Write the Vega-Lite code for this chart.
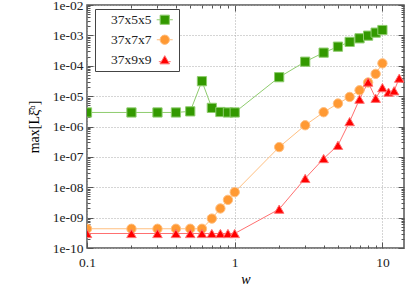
{
  "$schema": "https://vega.github.io/schema/vega-lite/v6.json",
  "width": 317,
  "height": 243,
  "autosize": "none",
  "padding": {"left": 87, "top": 5, "right": 3, "bottom": 39},
  "background": "white",
  "config": {
    "view": {"stroke": "#555555", "strokeWidth": 1.5},
    "font": "Liberation Serif",
    "legend": {
      "orient": "none",
      "legendX": 8,
      "legendY": 4,
      "strokeColor": "#444444",
      "fillColor": "white",
      "padding": 4,
      "rowPadding": 5,
      "labelFont": "Liberation Serif",
      "labelFontSize": 13.5,
      "labelColor": "#222222",
      "labelAlign": "right",
      "labelOffset": -20,
      "symbolOffset": 59,
      "symbolStrokeWidth": 1
    }
  },
  "data": {
    "values": [
      {"w": 0.1, "v": 2.9e-6, "s": "37x5x5"},
      {"w": 0.2, "v": 2.9e-6, "s": "37x5x5"},
      {"w": 0.3, "v": 2.9e-6, "s": "37x5x5"},
      {"w": 0.4, "v": 2.9e-6, "s": "37x5x5"},
      {"w": 0.5, "v": 3.15e-6, "s": "37x5x5"},
      {"w": 0.6, "v": 3.1e-5, "s": "37x5x5"},
      {"w": 0.7, "v": 4.1e-6, "s": "37x5x5"},
      {"w": 0.8, "v": 3.0e-6, "s": "37x5x5"},
      {"w": 0.9, "v": 2.9e-6, "s": "37x5x5"},
      {"w": 1, "v": 2.9e-6, "s": "37x5x5"},
      {"w": 2, "v": 4.2e-5, "s": "37x5x5"},
      {"w": 3, "v": 1.36e-4, "s": "37x5x5"},
      {"w": 4, "v": 2.7e-4, "s": "37x5x5"},
      {"w": 5, "v": 4.25e-4, "s": "37x5x5"},
      {"w": 6, "v": 6.1e-4, "s": "37x5x5"},
      {"w": 7, "v": 8.0e-4, "s": "37x5x5"},
      {"w": 8, "v": 9.8e-4, "s": "37x5x5"},
      {"w": 9, "v": 1.23e-3, "s": "37x5x5"},
      {"w": 10, "v": 1.5e-3, "s": "37x5x5"},
      {"w": 0.1, "v": 4.3e-10, "s": "37x7x7"},
      {"w": 0.2, "v": 4.3e-10, "s": "37x7x7"},
      {"w": 0.3, "v": 4.3e-10, "s": "37x7x7"},
      {"w": 0.4, "v": 4.3e-10, "s": "37x7x7"},
      {"w": 0.5, "v": 4.3e-10, "s": "37x7x7"},
      {"w": 0.6, "v": 4.3e-10, "s": "37x7x7"},
      {"w": 0.7, "v": 9.3e-10, "s": "37x7x7"},
      {"w": 0.8, "v": 2.0e-9, "s": "37x7x7"},
      {"w": 0.9, "v": 3.85e-9, "s": "37x7x7"},
      {"w": 1, "v": 6.9e-9, "s": "37x7x7"},
      {"w": 2, "v": 2.1e-7, "s": "37x7x7"},
      {"w": 3, "v": 1.1e-6, "s": "37x7x7"},
      {"w": 4, "v": 2.95e-6, "s": "37x7x7"},
      {"w": 5, "v": 5.7e-6, "s": "37x7x7"},
      {"w": 6, "v": 9.4e-6, "s": "37x7x7"},
      {"w": 7, "v": 1.56e-5, "s": "37x7x7"},
      {"w": 8, "v": 2.8e-5, "s": "37x7x7"},
      {"w": 9, "v": 5.4e-5, "s": "37x7x7"},
      {"w": 10, "v": 1.2e-4, "s": "37x7x7"},
      {"w": 0.1, "v": 3.0e-10, "s": "37x9x9"},
      {"w": 0.2, "v": 3.0e-10, "s": "37x9x9"},
      {"w": 0.3, "v": 3.0e-10, "s": "37x9x9"},
      {"w": 0.4, "v": 3.0e-10, "s": "37x9x9"},
      {"w": 0.5, "v": 3.0e-10, "s": "37x9x9"},
      {"w": 0.6, "v": 3.0e-10, "s": "37x9x9"},
      {"w": 0.7, "v": 3.0e-10, "s": "37x9x9"},
      {"w": 0.8, "v": 3.0e-10, "s": "37x9x9"},
      {"w": 0.9, "v": 3.0e-10, "s": "37x9x9"},
      {"w": 1, "v": 3.0e-10, "s": "37x9x9"},
      {"w": 2, "v": 1.9e-9, "s": "37x9x9"},
      {"w": 3, "v": 1.95e-8, "s": "37x9x9"},
      {"w": 4, "v": 8.8e-8, "s": "37x9x9"},
      {"w": 5, "v": 2.4e-7, "s": "37x9x9"},
      {"w": 6, "v": 1.45e-6, "s": "37x9x9"},
      {"w": 7, "v": 7.9e-6, "s": "37x9x9"},
      {"w": 8, "v": 2.9e-5, "s": "37x9x9"},
      {"w": 9, "v": 8.5e-6, "s": "37x9x9"},
      {"w": 10, "v": 1.9e-5, "s": "37x9x9"},
      {"w": 11, "v": 1.35e-5, "s": "37x9x9"},
      {"w": 12, "v": 1.5e-5, "s": "37x9x9"},
      {"w": 13, "v": 3.9e-5, "s": "37x9x9"}
    ]
  },
  "resolve": {"axis": {"x": "independent", "y": "independent"}},
  "layer": [
    {
      "mark": {"type": "line", "strokeWidth": 1, "clip": true},
      "encoding": {
        "x": {
          "field": "w", "type": "quantitative",
          "scale": {"type": "log", "domain": [0.1, 14], "nice": false},
          "axis": {
            "orient": "bottom",
            "title": "w",
            "titleFont": "Liberation Serif",
            "titleFontStyle": "italic",
            "titleFontWeight": "normal",
            "titleFontSize": 14,
            "titlePadding": 1,
            "values": [0.1, 0.2, 0.3, 0.4, 0.5, 0.6, 0.7, 0.8, 0.9, 1, 2, 3, 4, 5, 6, 7, 8, 9, 10],
            "format": "~g",
            "labelExpr": "abs(log(datum.value)/LN10 - round(log(datum.value)/LN10)) < 0.001 ? datum.label : ''",
            "labelFont": "Liberation Serif",
            "labelFontSize": 13.5,
            "labelColor": "#222222",
            "labelOverlap": false,
            "labelFlush": false,
            "labelPadding": 13,
            "domain": false,
            "tickColor": "#555555",
            "tickSize": {"condition": {"test": "abs(log(datum.value)/LN10 - round(log(datum.value)/LN10)) < 0.001", "value": -6}, "value": -3},
            "grid": true,
            "gridColor": "#aaaaaa",
            "gridDash": [1, 2],
            "gridOpacity": {"condition": {"test": "abs(log(datum.value)/LN10 - round(log(datum.value)/LN10)) < 0.001", "value": 1}, "value": 0}
          }
        },
        "y": {
          "field": "v", "type": "quantitative",
          "scale": {"type": "log", "domain": [1e-10, 1e-2], "nice": false},
          "axis": {
            "orient": "left",
            "title": "max[Lξ̂ᵅ]",
            "titleFont": "Liberation Serif",
            "titleFontStyle": "normal",
            "titleFontWeight": "normal",
            "titleFontSize": 14,
            "titlePadding": 11,
            "values": [1e-10, 2e-10, 3e-10, 4e-10, 5e-10, 6e-10, 7e-10, 8e-10, 9e-10, 1e-9, 2e-9, 3e-9, 4e-9, 5e-9, 6e-9, 7e-9, 8e-9, 9e-9, 1e-8, 2e-8, 3e-8, 4e-8, 5e-8, 6e-8, 7e-8, 8e-8, 9e-8, 1e-7, 2e-7, 3e-7, 4e-7, 5e-7, 6e-7, 7e-7, 8e-7, 9e-7, 1e-6, 2e-6, 3e-6, 4e-6, 5e-6, 6e-6, 7e-6, 8e-6, 9e-6, 1e-5, 2e-5, 3e-5, 4e-5, 5e-5, 6e-5, 7e-5, 8e-5, 9e-5, 1e-4, 2e-4, 3e-4, 4e-4, 5e-4, 6e-4, 7e-4, 8e-4, 9e-4, 1e-3, 2e-3, 3e-3, 4e-3, 5e-3, 6e-3, 7e-3, 8e-3, 9e-3, 1e-2],
            "labelExpr": "abs(log(datum.value)/LN10 - round(log(datum.value)/LN10)) < 0.001 ? '1e-' + (-round(log(datum.value)/LN10) < 10 ? '0' : '') + (-round(log(datum.value)/LN10)) : ''",
            "labelFont": "Liberation Serif",
            "labelFontSize": 13.5,
            "labelColor": "#222222",
            "labelOverlap": false,
            "labelFlush": false,
            "labelPadding": 10,
            "domain": false,
            "tickColor": "#555555",
            "tickSize": {"condition": {"test": "abs(log(datum.value)/LN10 - round(log(datum.value)/LN10)) < 0.001", "value": -6}, "value": -3},
            "grid": true,
            "gridColor": "#aaaaaa",
            "gridDash": [1, 2],
            "gridOpacity": {"condition": {"test": "abs(log(datum.value)/LN10 - round(log(datum.value)/LN10)) < 0.001", "value": 1}, "value": 0}
          }
        },
        "stroke": {
          "field": "s", "type": "nominal",
          "scale": {"domain": ["37x5x5", "37x7x7", "37x9x9"], "range": ["#8fcc6e", "#ffbf80", "#ff7070"]},
          "legend": {
            "title": null, "labelFont": "Liberation Serif", "labelFontSize": 13.5, "labelAlign": "right", "labelOffset": -20, "symbolOffset": 59,
            "encode": {
              "labels": {"update": {"font": {"value": "Liberation Serif"}}},
              "symbols": {"update": {"shape": {"signal": "datum.value === '37x5x5' ? 'M-1.75,0H-1M1,0H1.75M-1,-1H1V1H-1Z' : datum.value === '37x7x7' ? 'M-1.7,0H-1M1,0H1.7M-1,0A1,1 0 1,1 1,0A1,1 0 1,1 -1,0Z' : 'M-1.25,0.4H-0.78M0.78,0.4H1.25M0,-0.866L-1,0.866H1Z'"}}}
            }
          }
        }
      }
    },
    {
      "mark": {"type": "point", "filled": true, "opacity": 1, "strokeWidth": 1, "clip": true},
      "encoding": {
        "x": {
          "field": "w", "type": "quantitative",
          "axis": {
            "orient": "top", "title": null, "labels": false, "domain": false, "grid": false,
            "values": [0.1, 0.2, 0.3, 0.4, 0.5, 0.6, 0.7, 0.8, 0.9, 1, 2, 3, 4, 5, 6, 7, 8, 9, 10],
            "tickColor": "#555555",
            "tickSize": {"condition": {"test": "abs(log(datum.value)/LN10 - round(log(datum.value)/LN10)) < 0.001", "value": -6}, "value": -3}
          }
        },
        "y": {
          "field": "v", "type": "quantitative",
          "axis": {
            "orient": "right", "title": null, "labels": false, "domain": false, "grid": false,
            "values": [1e-10, 2e-10, 3e-10, 4e-10, 5e-10, 6e-10, 7e-10, 8e-10, 9e-10, 1e-9, 2e-9, 3e-9, 4e-9, 5e-9, 6e-9, 7e-9, 8e-9, 9e-9, 1e-8, 2e-8, 3e-8, 4e-8, 5e-8, 6e-8, 7e-8, 8e-8, 9e-8, 1e-7, 2e-7, 3e-7, 4e-7, 5e-7, 6e-7, 7e-7, 8e-7, 9e-7, 1e-6, 2e-6, 3e-6, 4e-6, 5e-6, 6e-6, 7e-6, 8e-6, 9e-6, 1e-5, 2e-5, 3e-5, 4e-5, 5e-5, 6e-5, 7e-5, 8e-5, 9e-5, 1e-4, 2e-4, 3e-4, 4e-4, 5e-4, 6e-4, 7e-4, 8e-4, 9e-4, 1e-3, 2e-3, 3e-3, 4e-3, 5e-3, 6e-3, 7e-3, 8e-3, 9e-3, 1e-2],
            "tickColor": "#555555",
            "tickSize": {"condition": {"test": "abs(log(datum.value)/LN10 - round(log(datum.value)/LN10)) < 0.001", "value": -6}, "value": -3}
          }
        },
        "shape": {
          "condition": [
            {"test": "datum.s === '37x5x5'", "value": "square"},
            {"test": "datum.s === '37x7x7'", "value": "circle"}
          ],
          "value": "triangle-up"
        },
        "fill": {
          "field": "s", "type": "nominal",
          "scale": {"domain": ["37x5x5", "37x7x7", "37x9x9"], "range": ["#339900", "#ff9933", "#ff0000"]},
          "legend": {
            "title": null, "labelFont": "Liberation Serif", "labelFontSize": 13.5, "labelAlign": "right", "labelOffset": -20, "symbolOffset": 59,
            "encode": {
              "labels": {"update": {"font": {"value": "Liberation Serif"}}},
              "symbols": {"update": {"shape": {"signal": "datum.value === '37x5x5' ? 'M-1.75,0H-1M1,0H1.75M-1,-1H1V1H-1Z' : datum.value === '37x7x7' ? 'M-1.7,0H-1M1,0H1.7M-1,0A1,1 0 1,1 1,0A1,1 0 1,1 -1,0Z' : 'M-1.25,0.4H-0.78M0.78,0.4H1.25M0,-0.866L-1,0.866H1Z'"}}}
            }
          }
        },
        "stroke": {
          "field": "s", "type": "nominal",
          "legend": {
            "title": null, "labelFont": "Liberation Serif", "labelFontSize": 13.5, "labelAlign": "right", "labelOffset": -20, "symbolOffset": 59,
            "encode": {
              "labels": {"update": {"font": {"value": "Liberation Serif"}}},
              "symbols": {"update": {"shape": {"signal": "datum.value === '37x5x5' ? 'M-1.75,0H-1M1,0H1.75M-1,-1H1V1H-1Z' : datum.value === '37x7x7' ? 'M-1.7,0H-1M1,0H1.7M-1,0A1,1 0 1,1 1,0A1,1 0 1,1 -1,0Z' : 'M-1.25,0.4H-0.78M0.78,0.4H1.25M0,-0.866L-1,0.866H1Z'"}}}
            }
          }
        },
        "size": {
          "field": "s", "type": "nominal",
          "scale": {"domain": ["37x5x5", "37x7x7", "37x9x9"], "range": [85, 90, 165]},
          "legend": {
            "title": null, "labelFont": "Liberation Serif", "labelFontSize": 13.5, "labelAlign": "right", "labelOffset": -20, "symbolOffset": 59,
            "encode": {
              "labels": {"update": {"font": {"value": "Liberation Serif"}}},
              "symbols": {"update": {"shape": {"signal": "datum.value === '37x5x5' ? 'M-1.75,0H-1M1,0H1.75M-1,-1H1V1H-1Z' : datum.value === '37x7x7' ? 'M-1.7,0H-1M1,0H1.7M-1,0A1,1 0 1,1 1,0A1,1 0 1,1 -1,0Z' : 'M-1.25,0.4H-0.78M0.78,0.4H1.25M0,-0.866L-1,0.866H1Z'"}}}
            }
          }
        }
      }
    }
  ]
}
